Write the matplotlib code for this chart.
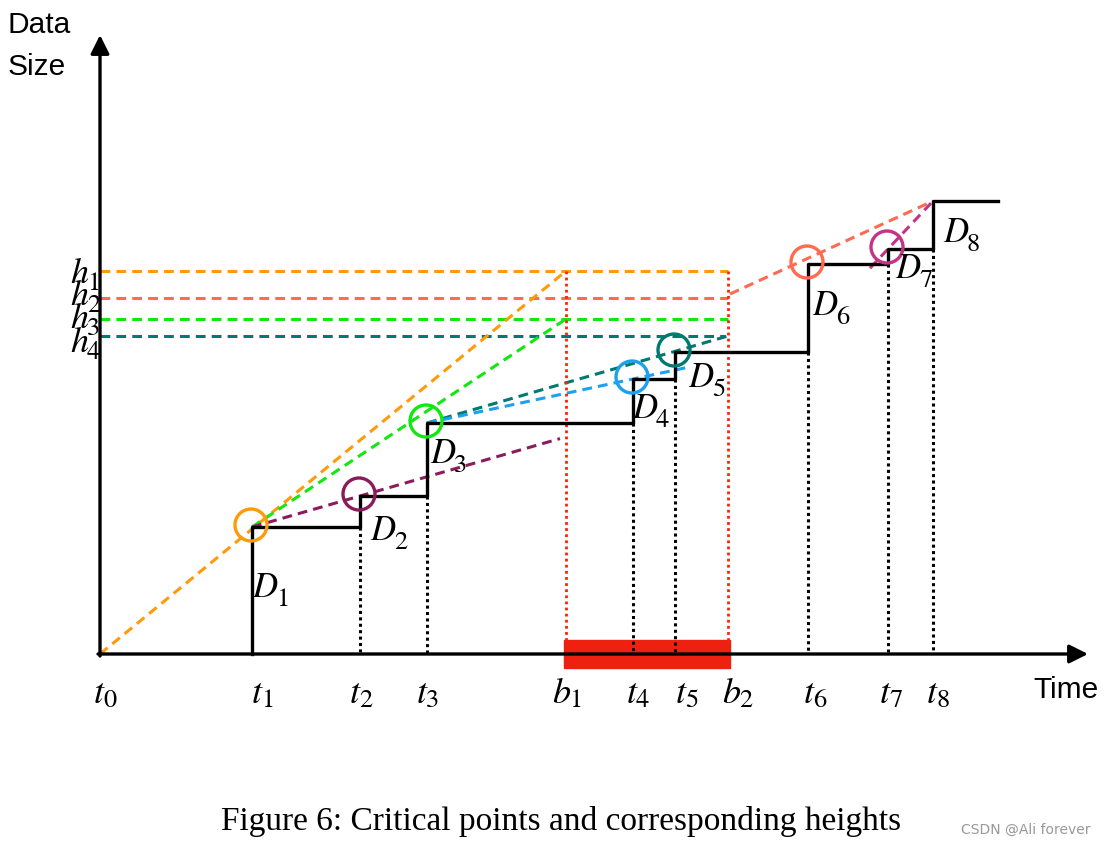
import matplotlib.pyplot as plt
from matplotlib.patches import Circle, Rectangle

# posiciones (en unidades del dibujo, eje y hacia abajo)
origen = (100, 655)
t_nombres = ["t", "t", "t", "t", "t", "t", "t", "t", "t"]
t_subs = ["0", "1", "2", "3", "4", "5", "6", "7", "8"]
t_pos = [100, 252, 360, 427, 633, 675, 808, 888, 933]
niveles = [655, 528, 497, 424, 380, 353, 265, 250, 202]   # altura de la escalera en cada t
fin_escalera = 998
b_pos = [566, 728]
h_y = [272, 299, 320, 337]
h_colores = ["#FF9A0A", "#FF6A50", "#11E811", "#00796E"]
h_fin = [728, 728, 728, 725]

# circulos de los puntos criticos D1..D7
circ_colores = ["#FF9A0A", "#8B1C5C", "#11E811", "#1CA0F0", "#00796E", "#FF6A50", "#C43385"]

# anclas de etiquetas (borde derecho de la letra, linea base)
d_ancla = [(277, 597), (395, 540), (455, 463), (657, 418), (713, 387),
           (837, 315), (920, 278), (968, 242)]
tb_letras = ["t", "t", "t", "t", "b", "t", "t", "b", "t", "t", "t"]
tb_subs = ["0", "1", "2", "3", "1", "4", "5", "2", "6", "7", "8"]
tb_ancla_x = [104, 262, 360, 427, 570, 637, 686, 740, 814, 890, 937]
h_base = [283, 305, 328, 352]

fig = plt.figure(figsize=(11.1, 8.45), dpi=100)
ax = fig.add_axes([0, 0, 1, 1])
ax.set_xlim(0, 1110)
ax.set_ylim(845, 0)
ax.axis("off")

SERIF = "STIXGeneral"


def etiqueta(x, y, letra, sub, tam, tam_sub, baja):
    ax.text(x, y, letra, fontsize=tam, family=SERIF, style="italic", ha="right", va="baseline", zorder=6)
    ax.text(x - 1, y + baja, sub, fontsize=tam_sub, family=SERIF, ha="left", va="baseline", zorder=6)


# barra roja entre b1 y b2
ax.add_patch(Rectangle((b_pos[0] - 2, 641), b_pos[1] - b_pos[0] + 4, 28, color="#EE2010", zorder=1))

# ejes con flechas
ax.annotate("", xy=(100, 36), xytext=(100, 657),
            arrowprops=dict(arrowstyle="-|>", lw=2.4, color="k", mutation_scale=28, shrinkA=0, shrinkB=0))
ax.annotate("", xy=(1088, 655), xytext=(98, 655),
            arrowprops=dict(arrowstyle="-|>", lw=2.4, color="k", mutation_scale=28, shrinkA=0, shrinkB=0))

# escalera
xs = [t_pos[1]] + t_pos[1:] + [fin_escalera]
ys = [origen[1]] + niveles[1:] + [niveles[-1]]
ax.step(xs, ys, where="post", color="k", lw=2.4, zorder=4)

# lineas punteadas negras verticales
for i in range(2, len(t_pos)):
    ax.plot([t_pos[i], t_pos[i]], [niveles[i - 1], 655], color="k", lw=2.2,
            linestyle=(0, (1, 1.1)), zorder=3)

# lineas rojas verticales en b1, b2
for b in b_pos:
    ax.plot([b, b], [h_y[0], 641], color="#FF2200", lw=2.0, linestyle=(0, (1, 1.2)), zorder=3)

# alturas h1..h4
guion = (0, (3.2, 2.0))
for y, c, xf in zip(h_y, h_colores, h_fin):
    ax.plot([100, xf], [y, y], color=c, lw=2.2, linestyle=guion, zorder=2)


def extender(p, q, x_fin):
    m = (q[1] - p[1]) / (q[0] - p[0])
    return (x_fin, p[1] + m * (x_fin - p[0]))


D = [(t_pos[i], niveles[i]) for i in range(1, len(t_pos))]

# rectas de los puntos criticos
rectas = [
    (origen, (b_pos[0], h_y[0]), "#FF9A0A"),
    (D[0], (b_pos[0], h_y[2]), "#11E811"),
    (D[0], extender(D[0], D[1], 560), "#8B1C5C"),
    (D[2], (b_pos[1], h_y[3]), "#00796E"),
    (D[2], extender(D[2], D[3], 688), "#1CA0F0"),
    ((b_pos[1] + 2, h_y[1] - 4), D[7], "#FF6A50"),
    (extender(D[6], D[7], 870), D[7], "#C43385"),
]
for p, q, c in rectas:
    ax.plot([p[0], q[0]], [p[1], q[1]], color=c, lw=2.2, linestyle=guion, zorder=2)

# circulos
for (x, y), c in zip(D[:7], circ_colores):
    ax.add_patch(Circle((x - 1, y - 2), 16, fill=False, edgecolor=c, lw=2.4, zorder=5))

# etiquetas D
for i, (x, y) in enumerate(d_ancla):
    etiqueta(x, y, "D", str(i + 1), 25, 19, 9)

# etiquetas de tiempo
for letra, sub, x in zip(tb_letras, tb_subs, tb_ancla_x):
    etiqueta(x, 703, letra, sub, 26, 19, 4)

# etiquetas de altura
for i, y in enumerate(h_base):
    etiqueta(88, y, "h", str(i + 1), 26, 19, 7)

# textos de ejes
ax.text(8, 33, "Data", fontsize=21.5, family="Liberation Sans", ha="left", va="baseline")
ax.text(8, 75, "Size", fontsize=21.5, family="Liberation Sans", ha="left", va="baseline")
ax.text(1033, 698, "Time", fontsize=21.5, family="Liberation Sans", ha="left", va="baseline")

# pie
ax.text(561, 822, "Figure 6: Critical points and corresponding heights", fontsize=24,
        family="Liberation Serif", ha="center", va="center")
ax.text(1026, 830, "CSDN @Ali forever", fontsize=10, family="DejaVu Sans", color="#999999",
        ha="center", va="center")

fig.savefig("out.png", dpi=100)
